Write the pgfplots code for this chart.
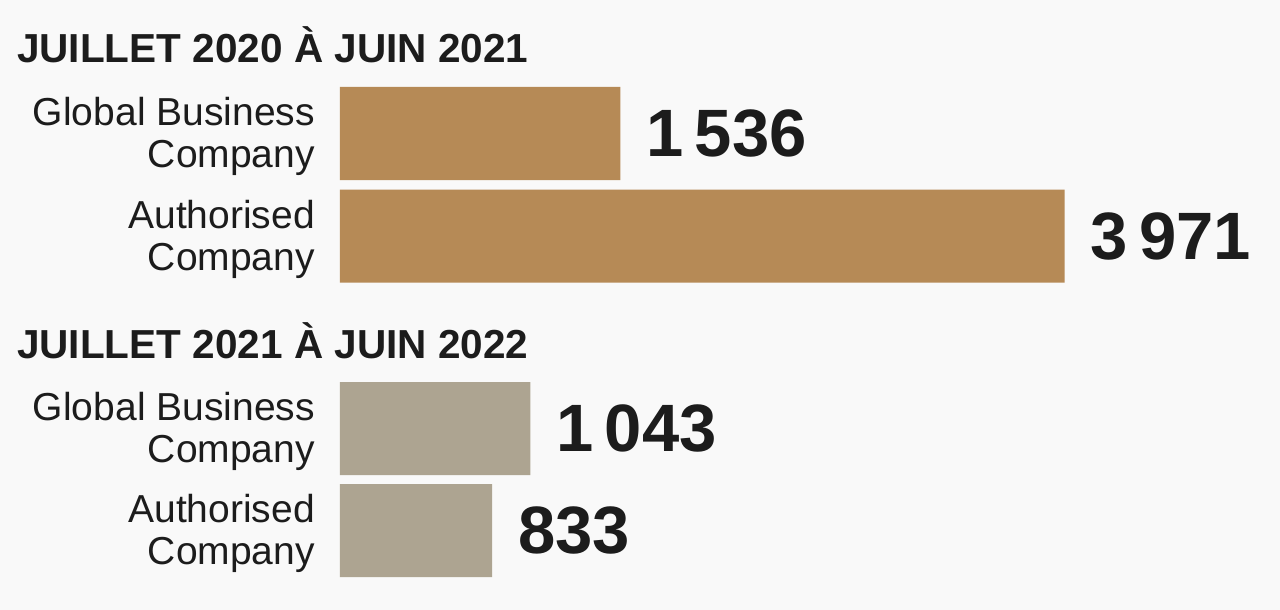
\documentclass[border=0pt]{standalone}
\usepackage{fontspec}
\setmainfont{Liberation Sans}
\usepackage{pgfplots}
\pgfplotsset{compat=1.18}
\definecolor{bg}{HTML}{F9F9F9}
\definecolor{bbrown}{HTML}{B68A56}
\definecolor{ggray}{HTML}{ADA491}
\definecolor{ink}{HTML}{1C1C1C}
\begin{document}
\begin{tikzpicture}
\fill[bg] (0,0) rectangle (1280pt,610pt);
\begin{axis}[
  at={(0,0)}, anchor=south west,
  scale only axis, width=1280pt, height=610pt,
  xmin=-1863, xmax=5151, ymin=0, ymax=610, y dir=reverse,
  hide axis, clip=false,
  xbar, bar width=93, bar shift=0pt,
  point meta=x,
  nodes near coords={\pgfmathprintnumber[1000 sep={\,}, fixed, precision=0, assume math mode=true]{\pgfplotspointmeta}},
  nodes near coords style={anchor=west, xshift=26pt, inner sep=0pt, text=ink,
     font=\fontsize{67}{67}\selectfont\bfseries},
]
\addplot[fill=bbrown, draw=none] coordinates {(1536,133.5) (3971,236)};
\addplot[fill=ggray, draw=none] coordinates {(1043,428.5) (833,530.5)};
\tikzset{lbl/.style={anchor=east, align=right, inner sep=0pt, text=ink, xshift=-25pt, yshift=-3pt,
     font=\fontsize{39}{42}\selectfont}}
\node[lbl] at (axis cs:0,133.5) {Global Business\\Company};
\node[lbl] at (axis cs:0,236) {Authorised\\Company};
\node[lbl] at (axis cs:0,428.5) {Global Business\\Company};
\node[lbl] at (axis cs:0,530.5) {Authorised\\Company};
\end{axis}
\node[anchor=base west, inner sep=0pt, text=ink, font=\fontsize{40.5}{40.5}\selectfont\bfseries] at (17pt,547pt) {JUILLET 2020 À JUIN 2021};
\node[anchor=base west, inner sep=0pt, text=ink, font=\fontsize{40.5}{40.5}\selectfont\bfseries] at (17pt,251pt) {JUILLET 2021 À JUIN 2022};
\end{tikzpicture}
\end{document}
